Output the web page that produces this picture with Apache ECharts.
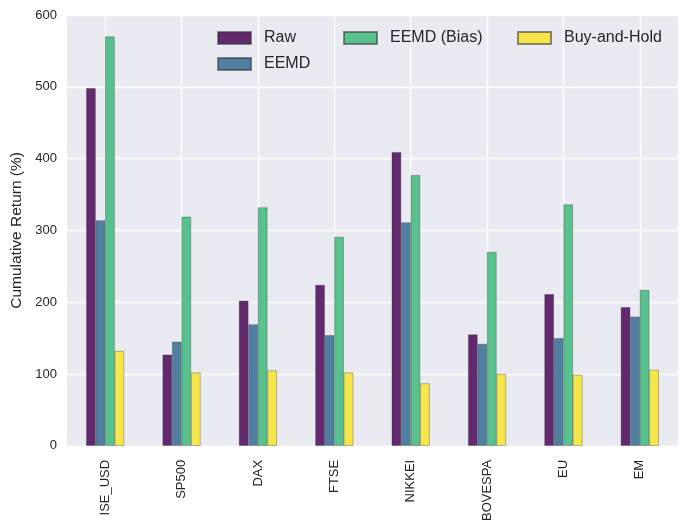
<!DOCTYPE html>
<html>
<head>
<meta charset="utf-8">
<script src="https://cdn.jsdelivr.net/npm/echarts@6/dist/echarts.min.js"></script>
<style>
  html, body { margin: 0; padding: 0; background: #fff; }
  #main { width: 681px; height: 524px; }
</style>
</head>
<body>
<div id="main"></div>
<script>
var categories = ['ISE_USD', 'SP500', 'DAX', 'FTSE', 'NIKKEI', 'BOVESPA', 'EU', 'EM'];
var raw       = [498, 127, 202, 224, 409, 155, 211, 193];
var eemd      = [314, 145, 169, 154, 311, 142, 150, 180];
var eemdBias  = [570, 319, 332, 291, 377, 270, 336, 217];
var buyHold   = [132, 102, 105, 102,  87, 100,  99, 106];
var yTicks = [0, 100, 200, 300, 400, 500, 600];

var seriesNames = ['Raw', 'EEMD', 'EEMD (Bias)', 'Buy-and-Hold'];
var seriesData = [raw, eemd, eemdBias, buyHold];
var colors = ['#63296f', '#50809f', '#58c18d', '#f6e64b'];

var myChart = echarts.init(document.getElementById('main'));

function makeLegend(names, left) {
    return {
        data: names,
        orient: 'vertical',
        left: left,
        top: 30,
        padding: 0,
        itemWidth: 33,
        itemHeight: 12,
        itemGap: 10,
        icon: 'rect',
        selectedMode: false,
        textStyle: {
            fontFamily: 'Liberation Sans, Arial, sans-serif',
            fontSize: 16,
            color: '#262626',
            padding: [0, 0, 0, 8]
        }
    };
}

var series = [];
for (var i = 0; i < seriesNames.length; i++) {
    series.push({
        name: seriesNames[i],
        type: 'bar',
        data: seriesData[i],
        barWidth: 9.5,
        barGap: '0%',
        itemStyle: {
            color: colors[i],
            borderColor: 'rgba(50,50,50,0.55)',
            borderWidth: 0.6
        }
    });
}

var option = {
    backgroundColor: '#ffffff',
    animation: false,
    color: colors,
    grid: {
        left: 67,
        right: 3,
        top: 15,
        bottom: 77,
        show: true,
        backgroundColor: '#eaeaf2',
        borderWidth: 0
    },
    legend: [
        makeLegend(['Raw', 'EEMD'], 217),
        makeLegend(['EEMD (Bias)'], 343),
        makeLegend(['Buy-and-Hold'], 517)
    ],
    xAxis: {
        type: 'category',
        data: categories,
        axisLine: { show: false },
        axisTick: { show: false, alignWithLabel: true },
        splitLine: {
            show: true,
            alignWithLabel: true,
            lineStyle: { color: '#ffffff', width: 1.3 }
        },
        axisLabel: {
            rotate: 90,
            margin: 14,
            fontFamily: 'Liberation Sans, Arial, sans-serif',
            fontSize: 13,
            color: '#262626'
        }
    },
    yAxis: {
        type: 'value',
        min: yTicks[0],
        max: yTicks[yTicks.length - 1],
        interval: 100,
        name: 'Cumulative Return (%)',
        nameLocation: 'middle',
        nameGap: 40,
        nameTextStyle: {
            fontFamily: 'Liberation Sans, Arial, sans-serif',
            fontSize: 15.5,
            color: '#262626'
        },
        axisLine: { show: false },
        axisTick: { show: false },
        splitLine: { lineStyle: { color: '#ffffff', width: 1.3 } },
        axisLabel: {
            margin: 10,
            fontFamily: 'Liberation Sans, Arial, sans-serif',
            fontSize: 13,
            color: '#262626'
        }
    },
    series: series
};
myChart.setOption(option, true);
</script>
</body>
</html>
